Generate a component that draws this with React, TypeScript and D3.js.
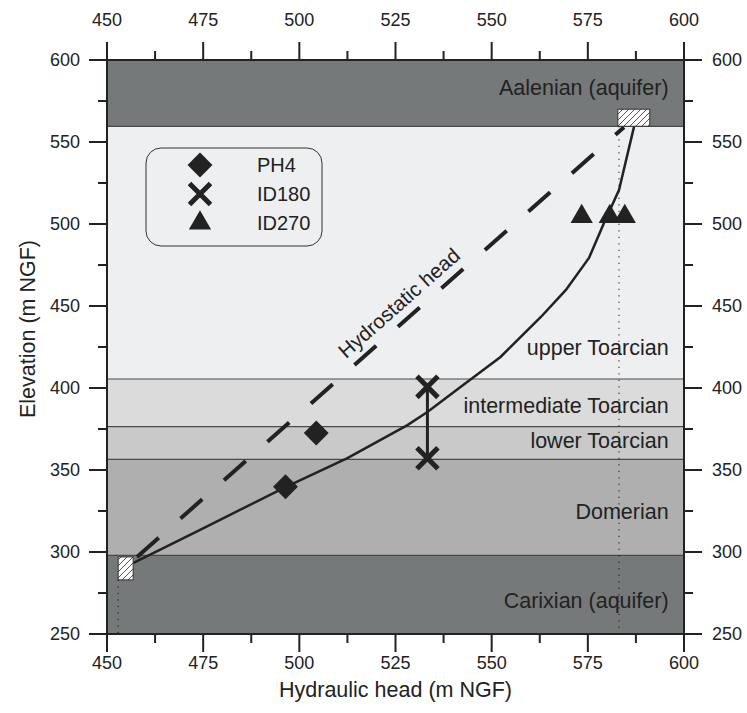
import React from 'react';
import * as d3 from 'd3';

// Geological layers (elevation ranges, m NGF)
const layerNames = ['Carixian (aquifer)', 'Domerian', 'lower Toarcian', 'intermediate Toarcian', 'upper Toarcian', 'Aalenian (aquifer)'];
const layerBottoms = [250, 298, 356.5, 376.5, 405.5, 559.5];
const layerTops = [298, 356.5, 376.5, 405.5, 559.5, 600];
const layerFills = ['#767979', '#afafaf', '#c9c9c9', '#dbdbdb', '#eeeff1', '#767979'];

// Modelled head profile
const modelHead = [456.9, 474.2, 496.4, 512.5, 528.1, 533.3, 541.9, 552.3, 562.8, 569.3, 575.3, 579.2, 583.1, 587.0];
const modelElev = [293.3, 313.5, 339.6, 357.3, 377.4, 385.4, 400.6, 418.9, 443.3, 459.8, 479.3, 500.6, 520.7, 559.2];

// Hydrostatic head line
const hydrostaticHead = [457.8, 584.4];
const hydrostaticElev = [297, 559];

// Measured heads
const ph4Head = [496.4, 504.4];
const ph4Elev = [339.8, 372.6];
const id180Head = [533.3, 533.3];
const id180Elev = [357.2, 400.7];
const id270Head = [573.4, 580.7, 584.6];
const id270Elev = [504.5, 504.5, 504.5];

// Boundary-condition boxes (aquifer heads)
const bcHeadMin = [452.9, 582.8];
const bcHeadMax = [456.8, 591.1];
const bcElevMin = [283, 559.6];
const bcElevMax = [297, 570];
const bcHead = [452.9, 583.1];

const xTicks = [450, 475, 500, 525, 550, 575, 600];
const yTicks = [250, 300, 350, 400, 450, 500, 550, 600];
const legendLabels = ['PH4', 'ID180', 'ID270'];

const W = 747;
const H = 713;
const FONT = '"Liberation Sans", Arial, Helvetica, sans-serif';
const INK = '#222';

export default function App() {
  const x = d3.scaleLinear().domain([450, 600]).range([107, 684]);
  const y = d3.scaleLinear().domain([250, 600]).range([634, 60]);
  const [x0, x1] = x.range();
  const [y1, y0] = y.range();

  const xMinor = d3.range(462.5, 600, 25);
  const yMinor = d3.range(275, 600, 50);

  const line = d3.line<[number, number]>().x(d => x(d[0])).y(d => y(d[1]));
  const modelPts = modelHead.map((h, i) => [h, modelElev[i]] as [number, number]);
  const hydroPts = hydrostaticHead.map((h, i) => [h, hydrostaticElev[i]] as [number, number]);

  const diamond = d3.symbol(d3.symbolSquare, 310)()!;
  const cross = d3.symbol(d3.symbolX, 290)()!;
  const tri = d3.symbol(d3.symbolTriangle, 215)()!;

  // layer label placement: right edge (head units) and centre elevation
  const labelRight = 596;
  const labelElev = [270.7, 325, 367.7, 389.6, 425, 583];

  // hydrostatic label runs parallel to the dashed line
  const hx = x(hydrostaticHead[0]), hy = y(hydrostaticElev[0]);
  const hx2 = x(hydrostaticHead[1]), hy2 = y(hydrostaticElev[1]);
  const ang = (Math.atan2(hy2 - hy, hx2 - hx) * 180) / Math.PI;

  const ext = 16;
  const major = 18;
  const minor = 9;

  return (
    <svg width={W} height={H} style={{ display: 'block', position: 'absolute', left: 0, top: 0 }} fontFamily={FONT}>
      <defs>
        <pattern id="hatch" patternUnits="userSpaceOnUse" width={6} height={6}>
          <rect width={6} height={6} fill="#fff" />
          <path d="M-1,1 L1,-1 M0,6 L6,0 M5,7 L7,5" stroke="#444" strokeWidth={0.9} />
        </pattern>
        <clipPath id="plot">
          <rect x={x0} y={y0} width={x1 - x0} height={y1 - y0} />
        </clipPath>
      </defs>
      <rect width={W} height={H} fill="#fff" />

      {/* layers */}
      {layerNames.map((n, i) => (
        <rect key={n} x={x0} width={x1 - x0} y={y(layerTops[i])} height={y(layerBottoms[i]) - y(layerTops[i])} fill={layerFills[i]} />
      ))}
      {layerBottoms.slice(1).map(b => (
        <line key={b} x1={x0} x2={x1} y1={y(b)} y2={y(b)} stroke="#4a4a4a" strokeWidth={1.2} />
      ))}
      {layerNames.map((n, i) => (
        <text key={n} x={x(labelRight)} y={y(labelElev[i])} dy="0.35em" textAnchor="end" fontSize={21.5} fill={INK}>
          {n}
        </text>
      ))}

      {/* dotted guides below the boundary boxes */}
      <g clipPath="url(#plot)">
        {bcHead.map((h, i) => (
          <line key={i} x1={x(h)} x2={x(h)} y1={y(bcElevMin[i])} y2={y1} stroke="#111" strokeWidth={1} strokeDasharray="1.2 5.3" />
        ))}
      </g>

      {/* hydrostatic head */}
      <path d={line(hydroPts)!} fill="none" stroke={INK} strokeWidth={4} strokeDasharray="29 29" />
      <text transform={`translate(399,303) rotate(${ang})`} textAnchor="middle" dy="0.35em" fontSize={20.5} fill={INK}>
        Hydrostatic head
      </text>

      {/* modelled profile */}
      <path d={line(modelPts)!} fill="none" stroke={INK} strokeWidth={2.5} />

      {/* boundary boxes */}
      {bcHeadMin.map((h, i) => (
        <rect key={i} x={x(h)} y={y(bcElevMax[i])} width={x(bcHeadMax[i]) - x(h)} height={y(bcElevMin[i]) - y(bcElevMax[i])} fill="url(#hatch)" stroke="#333" strokeWidth={1} />
      ))}

      {/* ID180 interval */}
      <line x1={x(id180Head[0])} x2={x(id180Head[1])} y1={y(id180Elev[0])} y2={y(id180Elev[1])} stroke={INK} strokeWidth={3} />
      {id180Head.map((h, i) => (
        <path key={i} d={cross} transform={`translate(${x(h)},${y(id180Elev[i])})`} stroke={INK} strokeWidth={5} fill="none" />
      ))}
      {ph4Head.map((h, i) => (
        <path key={i} d={diamond} transform={`translate(${x(h)},${y(ph4Elev[i])}) rotate(45)`} fill={INK} />
      ))}
      {id270Head.map((h, i) => (
        <path key={i} d={tri} transform={`translate(${x(h)},${y(id270Elev[i])})`} fill={INK} />
      ))}

      {/* legend */}
      <rect x={146} y={148} width={176} height={98} rx={15} ry={15} fill="none" stroke="#333" strokeWidth={1} />
      {legendLabels.map((l, i) => {
        const ly = 165 + i * 29;
        return (
          <g key={l}>
            {i === 0 && <path d={diamond} transform={`translate(200,${ly}) rotate(45)`} fill={INK} />}
            {i === 1 && <path d={cross} transform={`translate(200,${ly})`} stroke={INK} strokeWidth={5} fill="none" />}
            {i === 2 && <path d={tri} transform={`translate(200,${ly})`} fill={INK} />}
            <text x={257} y={ly} dy="0.35em" fontSize={20} fill={INK}>{l}</text>
          </g>
        );
      })}

      {/* frame lines */}
      <g stroke={INK} strokeWidth={2}>
        <line x1={x0 - ext} x2={x1 + ext} y1={y0} y2={y0} />
        <line x1={x0 - ext} x2={x1 + ext} y1={y1} y2={y1} />
        <line x1={x0} x2={x0} y1={y0 - ext} y2={y1 + ext} />
        <line x1={x1} x2={x1} y1={y0 - ext} y2={y1 + ext} />
      </g>

      {/* ticks */}
      <g stroke={INK} strokeWidth={2}>
        {xTicks.map(t => (
          <g key={t}>
            <line x1={x(t)} x2={x(t)} y1={y0} y2={y0 - major} />
            <line x1={x(t)} x2={x(t)} y1={y1} y2={y1 + major} />
          </g>
        ))}
        {xMinor.map(t => (
          <g key={t}>
            <line x1={x(t)} x2={x(t)} y1={y0} y2={y0 - minor} />
            <line x1={x(t)} x2={x(t)} y1={y1} y2={y1 + minor} />
          </g>
        ))}
        {yTicks.map(t => (
          <g key={t}>
            <line x1={x0} x2={x0 - major} y1={y(t)} y2={y(t)} />
            <line x1={x1} x2={x1 + major} y1={y(t)} y2={y(t)} />
          </g>
        ))}
        {yMinor.map(t => (
          <g key={t}>
            <line x1={x0} x2={x0 - minor} y1={y(t)} y2={y(t)} />
            <line x1={x1} x2={x1 + minor} y1={y(t)} y2={y(t)} />
          </g>
        ))}
      </g>

      {/* tick labels */}
      <g fontSize={18} fill={INK}>
        {xTicks.map(t => (
          <g key={t}>
            <text x={x(t)} y={20} dy="0.35em" textAnchor="middle">{t}</text>
            <text x={x(t)} y={663} dy="0.35em" textAnchor="middle">{t}</text>
          </g>
        ))}
        {yTicks.map(t => (
          <g key={t}>
            <text x={80} y={y(t)} dy="0.35em" textAnchor="end">{t}</text>
            <text x={712} y={y(t)} dy="0.35em" textAnchor="start">{t}</text>
          </g>
        ))}
      </g>

      {/* axis titles */}
      <text x={(x0 + x1) / 2} y={689} dy="0.35em" textAnchor="middle" fontSize={21.5} fill={INK}>
        Hydraulic head (m NGF)
      </text>
      <text transform={`translate(27,${(y0 + y1) / 2 - 18}) rotate(-90)`} dy="0.35em" textAnchor="middle" fontSize={21.5} fill={INK}>
        Elevation (m NGF)
      </text>
    </svg>
  );
}
